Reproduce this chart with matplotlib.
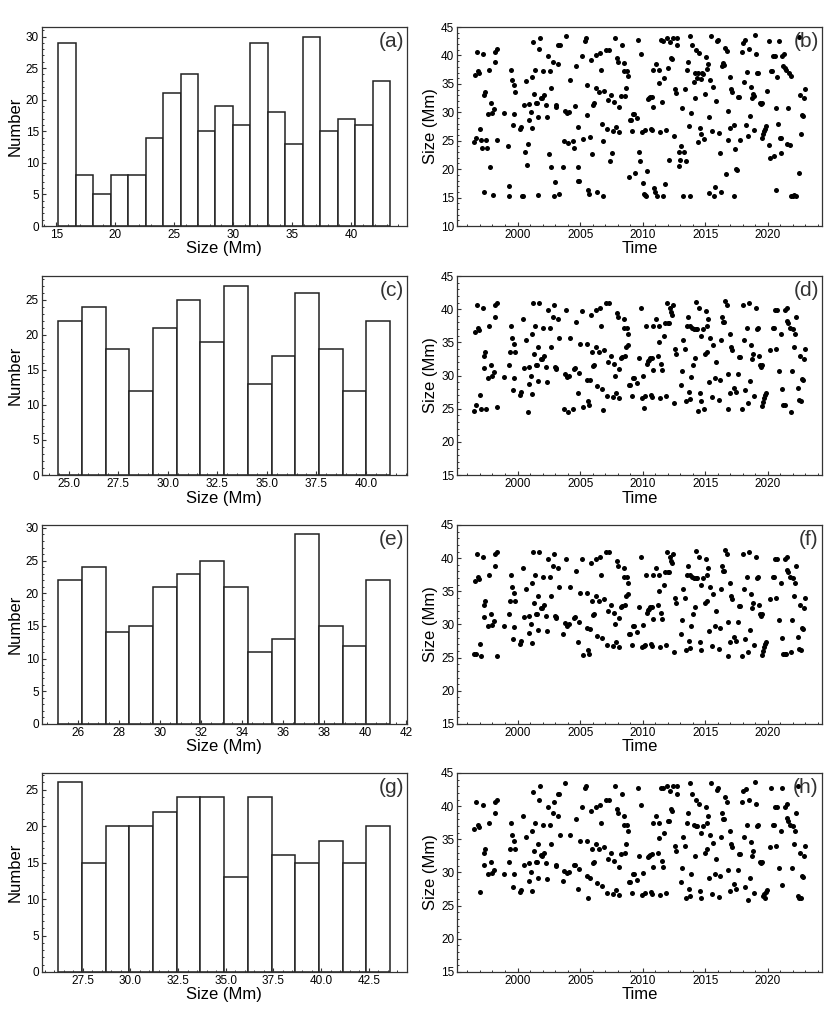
import numpy as np
import matplotlib
matplotlib.use('Agg')
import matplotlib.pyplot as plt
from matplotlib.ticker import MultipleLocator, AutoMinorLocator

# ---------------- histogram data ----------------
a_counts = [29, 8, 5, 8, 8, 14, 21, 24, 15, 19, 16, 29, 18, 13, 30, 15, 17, 16, 23]
a_range = (15.17, 43.30)
c_counts = [22, 24, 18, 12, 21, 25, 19, 27, 13, 17, 26, 18, 12, 22]
c_range = (24.48, 41.22)
e_counts = [22, 24, 14, 15, 21, 23, 25, 21, 11, 13, 29, 15, 12, 22]
e_range = (25.04, 41.21)
g_counts = [26, 15, 20, 20, 22, 24, 24, 13, 24, 16, 15, 18, 15, 20]
g_range = (26.22, 43.62)

# ---------------- scatter data (time, size) ----------------
b_points = [
(1996.49,24.7),(1996.68,25.5),(1996.63,36.6),(1996.76,40.6),(1996.84,37.2),(1996.95,36.9),(1997.00,27.1),(1997.11,25.1),(1997.16,23.8),(1997.21,40.2),
(1997.29,16.0),(1997.34,33.0),(1997.42,33.5),(1997.48,25.1),(1997.56,23.8),(1997.64,29.7),(1997.72,37.5),(1997.80,20.3),(1997.88,31.6),(1997.96,29.9),
(1998.01,15.5),(1998.09,30.6),(1998.17,38.9),(1998.22,40.6),(1998.33,41.1),(1998.38,25.2),(1998.91,29.9),(1999.23,24.0),(1999.31,17.0),(1999.34,15.3),
(1999.44,37.5),(1999.52,35.7),(1999.60,27.8),(1999.68,34.8),(1999.74,29.7),(1999.81,33.5),(2000.21,27.0),(2000.29,27.5),(2000.35,15.3),(2000.43,15.3),
(2000.53,31.2),(2000.58,23.1),(2000.64,35.5),(2000.72,20.7),(2000.80,24.5),(2000.88,28.7),(2000.93,31.4),(2001.04,30.1),(2001.12,36.3),(2001.17,27.2),
(2001.25,42.3),(2001.33,33.3),(2001.38,37.5),(2001.46,31.6),(2001.54,31.6),(2001.62,29.2),(2001.67,15.5),(2001.75,41.1),(2001.83,43.1),(2001.91,32.6),
(2001.99,32.5),(2002.07,37.2),(2002.15,33.0),(2002.26,31.3),(2002.34,29.1),(2002.44,39.9),(2002.52,22.7),(2002.58,37.2),(2002.66,20.4),(2002.71,34.3),
(2002.82,38.9),(2002.90,15.3),(2002.97,17.8),(2003.05,31.0),(2003.11,31.2),(2003.21,38.5),(2003.24,41.8),(2003.35,15.7),(2003.43,41.8),(2003.64,20.3),
(2003.75,25.0),(2003.82,30.3),(2003.88,43.5),(2003.93,29.9),(2004.06,24.6),(2004.12,30.0),(2004.22,35.6),(2004.44,25.0),(2004.54,23.7),(2004.60,31.1),
(2004.67,38.1),(2004.81,27.4),(2004.83,20.4),(2004.87,18.0),(2004.94,18.0),(2005.15,39.9),(2005.26,25.3),(2005.37,42.5),(2005.45,43.0),(2005.52,34.8),
(2005.58,29.5),(2005.66,16.4),(2005.71,15.7),(2005.76,25.6),(2005.87,39.2),(2005.95,22.6),(2006.06,31.3),(2006.14,31.6),(2006.24,34.2),(2006.30,40.1),
(2006.37,16.0),(2006.48,33.5),(2006.56,40.4),(2006.67,37.5),(2006.72,28.0),(2006.80,24.9),(2006.85,15.3),(2006.93,33.8),(2007.04,41.0),(2007.14,27.0),
(2007.22,32.1),(2007.30,41.0),(2007.38,21.5),(2007.49,33.0),(2007.54,22.9),(2007.65,26.8),(2007.70,31.8),(2007.76,43.0),(2007.84,27.4),(2007.92,39.6),
(2007.99,38.9),(2008.07,26.6),(2008.13,30.9),(2008.23,32.8),(2008.37,41.8),(2008.47,37.2),(2008.53,38.6),(2008.58,32.9),(2008.63,34.3),(2008.71,37.2),
(2008.79,36.4),(2008.92,18.7),(2009.00,28.6),(2009.08,28.6),(2009.16,26.8),(2009.24,29.7),(2009.32,29.7),(2009.40,19.3),(2009.51,29.0),(2009.59,42.7),
(2009.69,23.1),(2009.77,21.5),(2009.85,40.2),(2009.93,26.6),(2009.99,17.5),(2010.07,15.7),(2010.15,26.9),(2010.20,15.5),(2010.28,15.3),(2010.33,19.6),
(2010.41,32.3),(2010.49,32.5),(2010.57,32.7),(2010.65,27.0),(2010.73,26.9),(2010.78,32.7),(2010.81,37.5),(2010.86,30.9),(2010.94,16.6),(2011.00,16.0),
(2011.05,38.5),(2011.10,15.3),(2011.26,35.1),(2011.31,37.5),(2011.37,26.6),(2011.47,42.7),(2011.53,31.8),(2011.58,15.3),(2011.63,42.6),(2011.71,36.0),
(2011.79,17.4),(2011.87,26.9),(2011.93,43.0),(2012.01,37.8),(2012.09,21.7),(2012.14,42.3),(2012.22,39.5),(2012.30,39.3),(2012.38,43.0),(2012.46,25.9),
(2012.54,34.1),(2012.62,33.4),(2012.70,43.0),(2012.75,41.8),(2012.86,23.0),(2012.91,20.6),(2012.99,21.7),(2013.07,24.0),(2013.15,30.7),(2013.23,15.3),
(2013.28,23.0),(2013.39,34.1),(2013.47,21.5),(2013.55,37.5),(2013.63,38.9),(2013.68,27.6),(2013.76,15.3),(2013.81,43.5),(2013.89,29.8),(2013.97,41.9),
(2014.08,35.4),(2014.16,36.9),(2014.21,32.5),(2014.29,41.0),(2014.37,36.0),(2014.40,36.9),(2014.42,24.7),(2014.50,40.4),(2014.56,27.2),(2014.63,26.2),
(2014.69,35.9),(2014.74,36.9),(2014.85,36.7),(2014.90,25.3),(2014.98,33.2),(2015.03,39.7),(2015.11,37.6),(2015.22,38.5),(2015.27,15.8),(2015.33,29.1),
(2015.41,35.7),(2015.49,43.5),(2015.56,26.8),(2015.64,34.5),(2015.72,15.3),(2015.80,16.9),(2015.88,32.0),(2015.96,42.5),(2016.04,42.7),(2016.12,26.3),
(2016.20,22.9),(2016.28,16.0),(2016.36,38.1),(2016.41,38.7),(2016.49,38.3),(2016.55,41.4),(2016.63,19.1),(2016.71,40.7),(2016.79,25.1),(2016.84,30.3),
(2016.95,27.3),(2017.00,36.3),(2017.08,34.1),(2017.16,33.6),(2017.26,15.3),(2017.32,27.7),(2017.40,23.6),(2017.45,20.0),(2017.50,19.8),(2017.64,32.7),
(2017.72,32.7),(2017.80,25.1),(2017.93,40.6),(2017.98,42.2),(2018.09,35.4),(2018.17,42.7),(2018.22,27.7),(2018.30,37.1),(2018.38,25.9),(2018.46,41.1),
(2018.54,29.3),(2018.62,34.4),(2018.70,32.5),(2018.78,33.3),(2018.86,32.8),(2018.91,26.9),(2018.99,43.6),(2019.04,40.2),(2019.12,36.9),(2019.20,37.0),
(2019.34,31.6),(2019.42,31.4),(2019.50,25.4),(2019.55,31.6),(2019.60,26.2),(2019.68,26.7),(2019.79,27.0),(2019.84,27.6),(2019.92,33.7),
(2020.05,42.6),(2020.12,24.3),(2020.20,21.9),(2020.28,37.2),(2020.36,37.2),(2020.44,39.9),(2020.50,22.3),(2020.56,39.9),(2020.62,30.7),(2020.68,16.4),
(2020.74,36.3),(2020.80,27.9),(2020.88,42.6),(2020.95,25.4),(2021.02,22.9),(2021.08,25.4),(2021.15,39.9),(2021.22,38.1),(2021.28,40.2),(2021.36,37.8),
(2021.44,37.5),(2021.52,24.5),(2021.58,30.7),(2021.66,36.9),(2021.74,24.3),(2021.82,36.4),(2021.88,15.3),(2022.02,15.3),(2022.12,15.4),(2022.28,15.3),
(2022.45,19.3),(2022.52,43.2),(2022.58,33.0),(2022.65,26.2),(2022.72,29.5),(2022.80,29.4),(2022.88,32.5),(2022.97,34.1),
]

d_points = [
(1996.49,24.6),(1996.63,36.6),(1996.68,25.5),(1996.76,40.6),(1996.84,37.2),(1996.95,36.9),(1997.00,27.1),(1997.11,25.0),(1997.21,40.2),(1997.29,31.1),
(1997.34,33.0),(1997.42,33.5),(1997.48,25.0),(1997.64,29.7),(1997.72,37.5),(1997.88,31.6),(1997.96,29.9),(1998.09,30.5),(1998.17,38.8),(1998.22,40.6),
(1998.33,41.0),(1998.38,25.2),(1998.91,29.8),(1999.31,31.6),(1999.39,33.5),(1999.44,37.5),(1999.52,35.6),(1999.60,27.8),(1999.68,34.8),(1999.74,29.6),
(1999.81,33.5),(2000.21,27.0),(2000.29,27.5),(2000.40,38.5),(2000.53,31.1),(2000.64,35.4),(2000.80,24.5),(2000.88,28.7),(2000.93,31.3),(2001.04,30.0),
(2001.12,36.3),(2001.17,27.2),(2001.25,41.0),(2001.33,33.2),(2001.38,37.5),(2001.46,31.6),(2001.54,31.6),(2001.62,29.2),(2001.67,34.3),(2001.75,41.0),
(2001.91,32.5),(2001.99,32.5),(2002.07,37.2),(2002.15,33.0),(2002.26,31.3),(2002.34,29.0),(2002.44,39.9),(2002.58,37.2),(2002.71,34.3),(2002.82,38.8),
(2002.90,40.6),(2002.97,31.3),(2003.05,31.2),(2003.11,31.0),(2003.24,38.5),(2003.35,35.6),(2003.75,25.0),(2003.82,30.2),(2003.88,39.9),(2003.93,29.8),
(2004.06,24.5),(2004.12,30.0),(2004.22,35.6),(2004.44,25.0),(2004.54,31.0),(2004.60,31.2),(2004.67,38.1),(2004.81,27.4),(2004.89,30.4),(2004.97,34.8),
(2005.15,39.8),(2005.26,25.3),(2005.52,34.8),(2005.58,29.4),(2005.66,26.1),(2005.71,25.6),(2005.76,29.3),(2005.87,39.2),(2005.95,33.5),(2006.06,31.4),
(2006.14,31.6),(2006.24,34.3),(2006.30,39.9),(2006.37,28.4),(2006.48,33.5),(2006.56,40.2),(2006.67,37.5),(2006.72,28.0),(2006.80,24.8),(2006.93,33.8),
(2007.04,41.0),(2007.14,26.9),(2007.22,32.1),(2007.30,41.0),(2007.49,33.0),(2007.65,26.8),(2007.70,31.8),(2007.76,30.0),(2007.84,27.4),(2007.92,39.5),
(2007.99,38.8),(2008.07,26.6),(2008.13,31.0),(2008.23,32.7),(2008.37,32.8),(2008.47,37.2),(2008.53,38.5),(2008.58,33.0),(2008.63,34.3),(2008.71,37.2),
(2008.79,36.3),(2008.85,34.6),(2008.92,28.5),(2009.00,28.5),(2009.16,26.9),(2009.24,29.7),(2009.32,29.7),(2009.51,28.9),(2009.69,32.6),(2009.85,40.2),
(2009.93,26.6),(2009.99,29.9),(2010.07,25.1),(2010.15,26.9),(2010.23,37.5),(2010.33,31.8),(2010.41,32.2),(2010.49,32.4),(2010.57,32.6),(2010.65,27.1),
(2010.73,26.8),(2010.78,32.7),(2010.81,37.5),(2010.86,30.9),(2011.05,38.5),(2011.21,33.0),(2011.26,35.1),(2011.31,37.5),(2011.37,26.6),(2011.47,31.8),
(2011.53,30.8),(2011.71,36.0),(2011.79,37.9),(2011.87,26.9),(2011.93,41.0),(2012.01,37.9),(2012.09,37.9),(2012.14,40.2),(2012.22,39.6),(2012.30,39.2),
(2012.38,40.6),(2012.46,25.8),(2012.54,34.0),(2012.62,33.2),(2013.02,28.5),(2013.15,30.7),(2013.23,35.4),(2013.39,34.0),(2013.47,26.1),(2013.55,37.5),
(2013.63,38.8),(2013.68,27.5),(2013.76,26.4),(2013.81,37.5),(2013.89,29.8),(2013.97,37.2),(2014.02,31.6),(2014.08,37.0),(2014.16,32.6),(2014.24,37.0),
(2014.29,41.1),(2014.37,37.0),(2014.42,24.6),(2014.50,40.2),(2014.56,27.3),(2014.63,26.1),(2014.69,36.0),(2014.79,37.0),(2014.90,25.0),(2014.98,33.2),
(2015.03,39.8),(2015.11,37.5),(2015.17,33.5),(2015.22,38.5),(2015.33,29.0),(2015.41,35.6),(2015.56,26.8),(2015.64,34.6),(2015.80,29.7),(2015.88,32.1),
(2016.07,26.3),(2016.20,29.4),(2016.26,35.4),(2016.36,38.8),(2016.41,38.1),(2016.49,38.1),(2016.55,41.3),(2016.71,40.6),(2016.79,25.0),(2016.84,30.3),
(2016.95,27.3),(2017.00,36.3),(2017.08,34.3),(2017.16,33.8),(2017.26,28.1),(2017.45,27.5),(2017.64,30.3),(2017.72,32.8),(2017.80,32.8),(2017.93,25.0),
(2017.98,40.6),(2018.09,35.4),(2018.17,27.8),(2018.30,37.2),(2018.38,25.8),(2018.46,41.0),(2018.54,29.2),(2018.62,34.6),(2018.70,32.5),(2018.78,33.3),
(2018.91,26.9),(2019.04,40.2),(2019.12,37.0),(2019.20,37.2),(2019.26,33.0),(2019.34,31.6),(2019.42,31.3),(2019.50,25.4),(2019.55,31.6),(2019.60,26.0),
(2019.68,26.6),(2019.79,27.1),(2019.87,27.4),(2020.16,33.8),(2020.42,37.2),(2020.50,37.2),(2020.56,39.9),(2020.66,34.0),(2020.72,39.9),(2020.85,30.7),
(2021.04,36.3),(2021.09,27.9),(2021.17,25.5),(2021.33,25.5),(2021.38,39.9),(2021.49,40.2),(2021.54,38.2),(2021.62,37.9),(2021.73,37.2),(2021.81,24.5),
(2021.91,30.7),(2021.97,37.0),(2022.05,34.3),(2022.15,36.3),(2022.28,38.8),(2022.44,28.1),(2022.52,26.3),(2022.60,33.0),(2022.68,26.1),(2022.74,29.5),
(2022.82,29.3),(2022.90,32.5),(2022.97,34.0),
]

f_points = [
(1996.49,25.5),(1996.63,36.6),(1996.68,25.5),(1996.76,40.6),(1996.84,37.2),(1996.95,36.9),(1997.00,27.1),(1997.11,25.2),(1997.21,40.2),(1997.29,31.1),
(1997.34,33.0),(1997.42,33.5),(1997.64,29.7),(1997.72,37.5),(1997.88,31.6),(1997.96,29.9),(1998.09,30.5),(1998.17,38.8),(1998.22,40.6),
(1998.33,41.0),(1998.38,25.2),(1998.91,29.8),(1999.31,31.6),(1999.39,33.5),(1999.44,37.5),(1999.52,35.6),(1999.60,27.8),(1999.68,34.8),(1999.74,29.6),
(1999.81,33.5),(2000.21,27.0),(2000.29,27.5),(2000.40,38.5),(2000.53,31.1),(2000.64,35.4),(2000.88,28.7),(2000.93,31.3),(2001.04,30.0),
(2001.12,36.3),(2001.17,27.2),(2001.25,41.0),(2001.33,33.2),(2001.38,37.5),(2001.46,31.6),(2001.54,31.6),(2001.62,29.2),(2001.67,34.3),(2001.75,41.0),
(2001.91,32.5),(2001.99,32.5),(2002.07,37.2),(2002.15,33.0),(2002.26,31.3),(2002.34,29.0),(2002.44,39.9),(2002.58,37.2),(2002.71,34.3),(2002.82,38.8),
(2002.90,40.6),(2002.97,31.3),(2003.05,31.2),(2003.11,31.0),(2003.24,38.5),(2003.35,35.6),(2003.67,28.6),(2003.82,30.2),(2003.88,39.9),(2003.93,29.8),
(2004.12,30.0),(2004.22,35.6),(2004.54,31.0),(2004.60,31.2),(2004.67,38.1),(2004.81,27.4),(2004.89,30.4),(2004.97,34.8),
(2005.15,39.8),(2005.26,25.4),(2005.52,34.8),(2005.58,29.4),(2005.66,26.1),(2005.71,25.6),(2005.76,29.3),(2005.87,39.2),(2005.95,33.5),(2006.06,31.4),
(2006.14,31.6),(2006.24,34.3),(2006.30,39.9),(2006.37,28.3),(2006.48,33.5),(2006.56,40.2),(2006.67,37.5),(2006.72,27.9),(2006.93,33.8),
(2007.04,41.0),(2007.14,26.9),(2007.22,32.1),(2007.30,41.0),(2007.49,33.0),(2007.65,26.8),(2007.70,31.8),(2007.76,30.0),(2007.84,27.4),(2007.92,39.5),
(2007.99,38.8),(2008.07,26.6),(2008.13,31.0),(2008.23,32.7),(2008.37,32.8),(2008.47,37.2),(2008.53,38.5),(2008.58,33.0),(2008.63,34.3),(2008.71,37.2),
(2008.79,36.3),(2008.85,34.6),(2008.92,28.5),(2009.00,28.5),(2009.16,26.9),(2009.24,29.7),(2009.32,29.7),(2009.51,28.9),(2009.69,32.6),(2009.85,40.2),
(2009.93,26.6),(2009.99,29.9),(2010.07,26.7),(2010.15,26.9),(2010.23,37.5),(2010.33,31.8),(2010.41,32.2),(2010.49,32.4),(2010.57,32.6),(2010.65,27.1),
(2010.73,26.8),(2010.78,32.7),(2010.81,37.5),(2010.86,30.9),(2011.05,38.5),(2011.21,33.0),(2011.26,35.1),(2011.31,37.5),(2011.37,26.6),(2011.47,31.8),
(2011.53,30.8),(2011.71,36.0),(2011.79,37.9),(2011.87,26.9),(2011.93,41.0),(2012.01,37.9),(2012.09,37.9),(2012.14,40.2),(2012.22,39.6),(2012.30,39.2),
(2012.38,40.6),(2012.46,25.8),(2012.54,34.0),(2012.62,33.2),(2013.02,28.5),(2013.15,30.7),(2013.23,35.4),(2013.39,34.0),(2013.47,26.1),(2013.55,37.5),
(2013.63,38.8),(2013.68,27.5),(2013.76,26.4),(2013.81,37.5),(2013.89,29.8),(2013.97,37.2),(2014.02,31.6),(2014.08,37.0),(2014.16,32.6),(2014.24,37.0),
(2014.29,41.1),(2014.37,37.0),(2014.50,40.2),(2014.56,27.3),(2014.63,26.1),(2014.69,36.0),(2014.79,37.0),(2014.98,33.2),
(2015.03,39.8),(2015.11,37.5),(2015.17,33.5),(2015.22,38.5),(2015.33,29.0),(2015.41,35.6),(2015.56,26.8),(2015.64,34.6),(2015.80,29.7),(2015.88,32.1),
(2016.07,26.3),(2016.20,29.4),(2016.26,35.4),(2016.36,38.8),(2016.41,38.1),(2016.49,38.1),(2016.55,41.3),(2016.71,40.6),(2016.79,25.2),(2016.84,30.3),
(2016.95,27.3),(2017.00,36.3),(2017.08,34.3),(2017.16,33.8),(2017.26,28.1),(2017.45,27.5),(2017.64,30.3),(2017.72,32.8),(2017.80,32.8),(2017.93,25.2),
(2017.98,40.6),(2018.09,35.4),(2018.17,27.8),(2018.30,37.2),(2018.38,25.8),(2018.46,41.0),(2018.54,29.2),(2018.62,34.6),(2018.70,32.5),(2018.78,33.3),
(2018.91,26.9),(2019.04,40.2),(2019.12,37.0),(2019.20,37.2),(2019.26,33.0),(2019.34,31.6),(2019.42,31.3),(2019.50,25.4),(2019.55,31.6),(2019.60,26.0),
(2019.68,26.6),(2019.79,27.1),(2019.87,27.4),(2020.16,33.8),(2020.42,37.2),(2020.50,37.2),(2020.56,39.9),(2020.66,34.0),(2020.72,39.9),(2020.85,30.7),
(2021.04,36.3),(2021.09,27.9),(2021.17,25.5),(2021.33,25.5),(2021.38,39.9),(2021.45,25.5),(2021.49,40.2),(2021.54,38.2),(2021.62,37.9),(2021.73,37.2),
(2021.81,25.8),(2021.91,30.7),(2021.97,37.0),(2022.05,34.3),(2022.15,36.3),(2022.28,38.8),(2022.44,28.1),(2022.52,26.3),(2022.60,33.0),(2022.68,26.1),
(2022.74,29.5),(2022.82,29.3),(2022.90,32.5),(2022.97,34.0),
]

h_points = [
(1996.49,36.6),(1996.68,40.6),(1996.84,37.2),(1996.95,36.9),(1997.00,27.1),(1997.21,40.2),(1997.29,31.1),(1997.34,33.0),(1997.42,33.5),(1997.64,29.7),
(1997.72,37.5),(1997.88,31.6),(1997.96,29.9),(1998.09,30.4),(1998.17,38.9),(1998.22,40.6),(1998.33,41.0),(1998.91,29.8),(1999.31,31.6),(1999.39,33.5),
(1999.44,37.5),(1999.52,35.7),(1999.60,27.8),(1999.68,34.8),(1999.74,29.7),(1999.81,33.5),(2000.21,27.0),(2000.29,27.4),(2000.40,38.5),(2000.53,31.2),
(2000.64,35.4),(2000.88,28.7),(2000.93,31.4),(2001.04,30.0),(2001.12,36.3),(2001.17,27.2),(2001.25,42.2),(2001.33,33.2),(2001.38,37.5),(2001.46,31.6),
(2001.54,31.6),(2001.62,29.2),(2001.67,34.3),(2001.75,41.0),(2001.83,43.0),(2001.91,32.6),(2001.99,32.5),(2002.07,37.2),(2002.15,33.0),(2002.26,31.4),
(2002.34,29.0),(2002.44,39.9),(2002.58,37.2),(2002.71,34.3),(2002.82,38.9),(2002.90,40.6),(2003.05,31.2),(2003.11,31.0),(2003.21,38.5),(2003.24,41.8),
(2003.35,41.8),(2003.43,35.6),(2003.67,28.7),(2003.75,30.2),(2003.82,43.5),(2003.93,29.9),(2004.12,30.0),(2004.22,35.6),(2004.54,31.1),(2004.60,31.2),
(2004.67,38.1),(2004.81,27.5),(2004.89,30.5),(2004.97,34.8),(2005.15,39.9),(2005.37,42.7),(2005.45,43.0),(2005.52,34.8),(2005.58,29.4),(2005.66,26.2),
(2005.76,29.2),(2005.87,39.2),(2005.95,33.5),(2006.06,31.5),(2006.14,31.6),(2006.24,34.3),(2006.30,39.9),(2006.37,28.4),(2006.48,33.5),(2006.56,40.2),
(2006.67,37.5),(2006.72,28.0),(2006.93,33.8),(2007.04,41.0),(2007.14,26.9),(2007.22,32.1),(2007.30,41.0),(2007.49,33.0),(2007.65,26.8),(2007.70,31.8),
(2007.76,43.0),(2007.84,27.4),(2007.92,39.5),(2007.99,38.9),(2008.07,26.6),(2008.13,30.9),(2008.23,32.8),(2008.37,41.8),(2008.47,37.2),(2008.53,38.5),
(2008.58,33.0),(2008.63,34.3),(2008.71,37.2),(2008.79,36.3),(2008.92,28.5),(2009.00,28.5),(2009.16,26.9),(2009.24,29.7),(2009.32,29.7),(2009.51,28.9),
(2009.59,42.7),(2009.69,32.5),(2009.85,40.2),(2009.93,26.6),(2009.99,29.9),(2010.15,26.9),(2010.41,32.3),(2010.49,32.5),(2010.57,32.7),(2010.65,27.0),
(2010.73,26.8),(2010.78,32.8),(2010.81,37.5),(2010.86,30.9),(2011.05,38.5),(2011.21,33.0),(2011.26,35.2),(2011.31,37.5),(2011.37,26.6),(2011.47,42.7),
(2011.53,31.8),(2011.58,30.8),(2011.63,42.7),(2011.71,36.0),(2011.87,26.9),(2011.93,43.0),(2012.01,37.8),(2012.09,37.8),(2012.14,42.3),(2012.22,39.5),
(2012.30,39.3),(2012.38,43.0),(2012.54,34.0),(2012.62,33.2),(2012.70,43.0),(2012.75,41.8),(2013.02,28.6),(2013.15,30.7),(2013.23,35.3),(2013.39,34.0),
(2013.47,26.1),(2013.55,37.5),(2013.63,38.9),(2013.68,27.5),(2013.76,26.5),(2013.81,43.5),(2013.89,29.8),(2013.97,41.8),(2014.08,37.2),(2014.16,32.5),
(2014.24,37.0),(2014.29,41.0),(2014.37,37.0),(2014.50,40.3),(2014.56,27.2),(2014.63,26.2),(2014.69,36.0),(2014.79,37.0),(2014.98,33.0),(2015.03,39.8),
(2015.11,37.5),(2015.17,33.5),(2015.22,38.5),(2015.33,29.1),(2015.41,35.6),(2015.49,43.5),(2015.56,26.8),(2015.64,34.5),(2015.80,29.7),(2015.88,32.1),
(2015.96,42.5),(2016.04,42.7),(2016.07,26.3),(2016.20,29.4),(2016.26,35.4),(2016.36,38.9),(2016.41,38.1),(2016.49,38.1),(2016.55,41.4),(2016.71,40.7),
(2016.84,30.3),(2016.95,27.2),(2017.00,36.3),(2017.08,34.3),(2017.16,33.9),(2017.26,28.2),(2017.45,27.5),(2017.64,30.3),(2017.72,32.8),(2017.80,32.8),
(2017.93,40.6),(2017.98,42.3),(2018.09,35.4),(2018.17,27.8),(2018.22,42.6),(2018.30,37.2),(2018.38,25.9),(2018.46,41.0),(2018.54,29.2),(2018.62,34.6),
(2018.70,32.5),(2018.78,33.3),(2018.91,26.9),(2018.99,43.6),(2019.04,40.3),(2019.12,37.0),(2019.20,37.2),(2019.34,31.6),(2019.42,31.4),(2019.55,31.6),
(2019.60,26.5),(2019.68,26.8),(2019.79,26.2),(2019.87,27.0),(2019.92,27.3),(2020.16,33.8),(2020.21,42.7),(2020.42,37.2),(2020.50,37.2),(2020.56,39.9),
(2020.66,34.0),(2020.72,39.9),(2020.85,30.7),(2021.04,36.3),(2021.09,28.1),(2021.12,42.7),(2021.38,39.9),(2021.49,40.3),(2021.54,38.2),(2021.62,37.8),
(2021.73,37.2),(2021.91,30.7),(2021.97,37.0),(2022.05,34.3),(2022.15,36.3),(2022.28,38.9),(2022.39,43.0),(2022.44,26.5),(2022.52,26.2),(2022.60,33.0),
(2022.68,26.2),(2022.74,29.5),(2022.82,29.3),(2022.90,32.5),(2022.97,34.0),
]

hist_labels = ['(a)', '(c)', '(e)', '(g)']
scat_labels = ['(b)', '(d)', '(f)', '(h)']
hist_counts = [a_counts, c_counts, e_counts, g_counts]
hist_ranges = [a_range, c_range, e_range, g_range]
hist_xstep = [5, 2.5, 2, 2.5]
scat_points = [b_points, d_points, f_points, h_points]
scat_ylim = [(10, 45), (15, 45), (15, 45), (15, 45)]

# ---------------- style ----------------
plt.rcParams['font.family'] = ['Liberation Sans', 'DejaVu Sans']
plt.rcParams['axes.linewidth'] = 0.9
plt.rcParams['axes.edgecolor'] = '#333333'

fig = plt.figure(figsize=(8.3, 10.09), dpi=100)
row_bottoms = [0.7760, 0.5292, 0.2825, 0.0367]
row_h = 0.1972
lx, lw = 0.0502, 0.4398
rx, rw = 0.5506, 0.4394


def style_axes(ax):
    ax.tick_params(which='both', direction='in', top=False, right=False,
                   labelsize=8.5, pad=2, color='#333333')
    ax.tick_params(which='major', length=3.2, width=0.8)
    ax.tick_params(which='minor', length=1.6, width=0.7)
    ax.xaxis.set_minor_locator(AutoMinorLocator())
    ax.yaxis.set_minor_locator(AutoMinorLocator())


for i in range(4):
    # histogram
    ax = fig.add_axes([lx, row_bottoms[i], lw, row_h])
    counts = np.array(hist_counts[i])
    edges = np.linspace(hist_ranges[i][0], hist_ranges[i][1], len(counts) + 1)
    ax.bar(edges[:-1], counts, width=np.diff(edges), align='edge',
           facecolor='white', edgecolor='#222222', linewidth=1.1)
    ax.xaxis.set_major_locator(MultipleLocator(hist_xstep[i]))
    ax.yaxis.set_major_locator(MultipleLocator(5))
    style_axes(ax)
    ax.set_xlabel('Size (Mm)', fontsize=12, labelpad=0.5)
    ax.set_ylabel('Number', fontsize=12, labelpad=2)
    ax.text(0.992, 0.975, hist_labels[i], transform=ax.transAxes,
            ha='right', va='top', fontsize=15, color='#333333')

    # scatter
    ax2 = fig.add_axes([rx, row_bottoms[i], rw, row_h])
    pts = np.array(scat_points[i])
    ax2.scatter(pts[:, 0], pts[:, 1], s=13, c='black', linewidths=0)
    ax2.set_ylim(*scat_ylim[i])
    ax2.xaxis.set_major_locator(MultipleLocator(5))
    ax2.yaxis.set_major_locator(MultipleLocator(5))
    style_axes(ax2)
    ax2.set_xlabel('Time', fontsize=12, labelpad=0.5)
    ax2.set_ylabel('Size (Mm)', fontsize=12, labelpad=2)
    ax2.text(0.992, 0.975, scat_labels[i], transform=ax2.transAxes,
             ha='right', va='top', fontsize=15, color='#333333')

fig.savefig('out.png', dpi=100)
